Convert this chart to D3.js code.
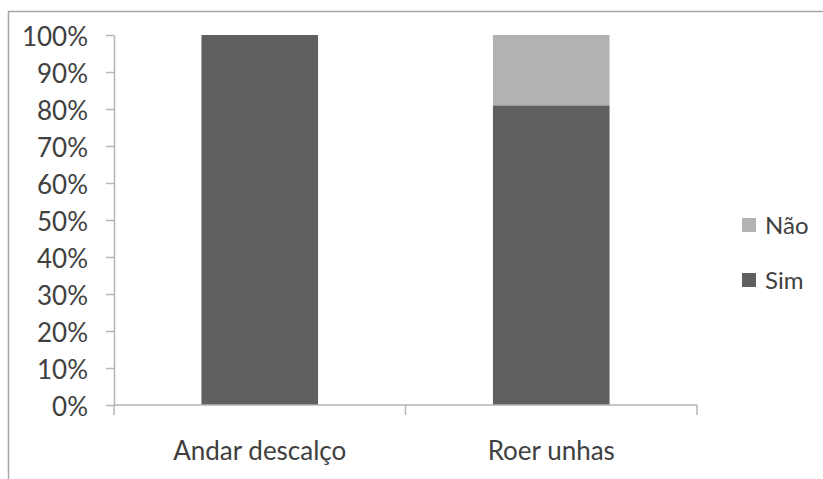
<!DOCTYPE html>
<html>
<head>
<meta charset="utf-8">
<script src="https://cdn.jsdelivr.net/npm/d3@7"></script>
<style>
  html, body { margin: 0; padding: 0; background: #fff; }
  svg { display: block; }
  text { font-family: Lato, "Open Sans", sans-serif; fill: #404040; }
</style>
</head>
<body>
<svg id="chart" width="823" height="479"></svg>
<script>
const categories = ["Andar descalço", "Roer unhas"];
const simValues = [100, 81];
const naoValues = [0, 19];
const seriesNames = ["Sim", "Não"];
const seriesColors = ["#606060", "#b2b2b2"];
const yTicks = [0, 10, 20, 30, 40, 50, 60, 70, 80, 90, 100];
const legendItems = ["Não", "Sim"];

const svg = d3.select("#chart");
const W = 823, H = 479;

// frame
svg.append("path")
  .attr("d", `M8.5,${H + 2} L8.5,11.5 L${W + 2},11.5`)
  .attr("fill", "none").attr("stroke", "#a6a6a6").attr("stroke-width", 1.5);

const x0 = 114, x1 = 697, yTop = 35, yBot = 405;
const x = d3.scaleBand().domain(categories).range([x0, x1]).paddingInner(0.6).paddingOuter(0.3);
const y = d3.scaleLinear().domain([0, 100]).range([yBot, yTop]);

const data = categories.map((c, i) => ({ cat: c, Sim: simValues[i], "Não": naoValues[i] }));
const stack = d3.stack().keys(seriesNames)(data);
const color = d3.scaleOrdinal().domain(seriesNames).range(seriesColors);

svg.append("g").selectAll("g").data(stack).join("g")
  .attr("fill", d => color(d.key))
  .selectAll("rect").data(d => d).join("rect")
  .attr("x", d => x(d.data.cat))
  .attr("width", x.bandwidth())
  .attr("y", d => y(d[1]))
  .attr("height", d => y(d[0]) - y(d[1]));

// y axis
const yAxis = svg.append("g").attr("transform", `translate(${x0},0)`)
  .call(d3.axisLeft(y).tickValues(yTicks).tickFormat(d => d + "%").tickSize(8).tickSizeOuter(0).tickPadding(18));
yAxis.select(".domain").attr("stroke", "#b5b5b5").attr("stroke-width", 1.5);
yAxis.selectAll(".tick line").attr("stroke", "#b5b5b5").attr("stroke-width", 1.5);
yAxis.selectAll(".tick text").attr("font-size", 26).attr("dy", "0.42em")
  .style("font-family", "Lato, sans-serif").attr("fill", "#404040");

// x axis
const xAxis = svg.append("g").attr("transform", `translate(0,${yBot})`);
xAxis.append("line").attr("x1", x0).attr("x2", x1).attr("y1", 0).attr("y2", 0)
  .attr("stroke", "#b5b5b5").attr("stroke-width", 1.5);
const step = (x1 - x0) / categories.length;
const boundaries = d3.range(categories.length + 1).map(i => x0 + i * step);
xAxis.selectAll("line.tk").data(boundaries).join("line").attr("class", "tk")
  .attr("x1", d => d).attr("x2", d => d).attr("y1", 0).attr("y2", 10)
  .attr("stroke", "#b5b5b5").attr("stroke-width", 1.5);
xAxis.selectAll("text").data(categories).join("text")
  .attr("x", d => x(d) + x.bandwidth() / 2).attr("y", 55)
  .attr("text-anchor", "middle").attr("font-size", 26)
  .text(d => d);

// legend
const lg = svg.append("g").attr("transform", "translate(742,218)");
const li = lg.selectAll("g").data(legendItems).join("g")
  .attr("transform", (d, i) => `translate(0,${i * 55})`);
li.append("rect").attr("width", 14).attr("height", 14).attr("y", 0)
  .attr("fill", d => color(d));
li.append("text").attr("x", 23).attr("y", 16).attr("font-size", 24).text(d => d);
</script>
</body>
</html>
